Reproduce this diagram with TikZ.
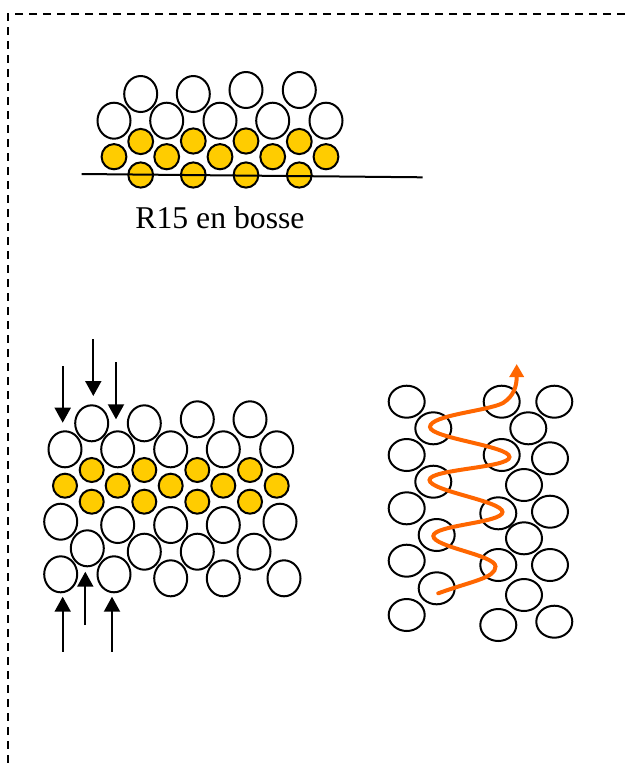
\documentclass[tikz,border=0pt]{standalone}
\usepackage{fontspec}
\setmainfont{Liberation Serif}
\usetikzlibrary{arrows.meta}
\definecolor{grain}{RGB}{255,204,0}
\definecolor{flow}{RGB}{255,102,0}
\tikzset{
  whitebead/.style={draw=black,line width=1pt,fill=white},
  goldbead/.style={draw=black,line width=1pt,fill=grain},
  pressarrow/.style={line width=1pt,-{Triangle[width=8pt,length=7.5pt]}},
  frameline/.style={line width=0.7pt,dash pattern=on 4pt off 3pt},
  flowpath/.style={draw=flow,line width=2pt,line cap=round,-{Triangle[width=7pt,length=6.5pt]}}
}
\begin{document}
\begin{tikzpicture}[x=0.5pt,y=-0.5pt]
\useasboundingbox (0,0) rectangle (625,767);
% frame
\draw[frameline] (625,14) -- (8,14) -- (8,767);

% ---------- top cluster ----------
\foreach \x/\y in {140.7/94,193.3/94,246/90,299.3/90,
                   114/120.7,166.7/120.7,220/120.7,272.7/120.7,326/120.7}
  \draw[whitebead] (\x,\y) ellipse [x radius=8.25pt,y radius=9pt];
\foreach \x/\y in {140.7/141.5,193.3/141,246/141,299.3/141.5,
                   114/156.7,166.7/156.7,220/156.7,272.7/156.7,326/156.7,
                   140.7/175,193.3/175,246/175,299.3/175}
  \draw[goldbead] (\x,\y) ellipse [x radius=6.2pt,y radius=6.3pt];
\coordinate (baseL) at (81.7,174);
\coordinate (baseR) at (422.7,177.3);
\draw[line width=1pt] (baseL) -- (baseR);
\node[font=\fontsize{15.85}{19}\selectfont,inner sep=0pt] (label) at (220,218) {R15 en bosse};

% ---------- bottom left cluster ----------
\foreach \x/\y in {91.7/423.3,144.3/423.3,197.3/419.3,250/419.3,
                   65/449.3,117.7/449.3,170.7/449.3,223.3/449.3,276.7/449.3,
                   60.7/521.7,117.7/525,170.7/525,223.3/525,280/521.7,
                   87.3/548.3,144.3/551.7,197.3/551.7,254/551.7,
                   60.7/574.3,114/574.3,170.7/578.3,223.3/578.3,284/578.3}
  \draw[whitebead] (\x,\y) ellipse [x radius=8.25pt,y radius=9pt];
\foreach \x/\y in {91.7/470,144.3/470,197.3/470,250/470,
                   65/485.7,117.7/485.7,170.7/485.7,223.3/485.7,276.7/485.7,
                   91.7/501.7,144.3/501.7,197.3/501.7,250/501.7}
  \draw[goldbead] (\x,\y) ellipse [x radius=6pt,y radius=6pt];
% press arrows
\coordinate (d1s) at (62.7,366);   \coordinate (d1e) at (62.7,422.7);
\coordinate (d2s) at (93.3,339.3); \coordinate (d2e) at (93.3,396);
\coordinate (d3s) at (116,362);    \coordinate (d3e) at (116,419.3);
\coordinate (u1s) at (62.7,651.7); \coordinate (u1e) at (62.7,596.7);
\coordinate (u2s) at (85.3,625);   \coordinate (u2e) at (85.3,571.7);
\coordinate (u3s) at (112,651.7);  \coordinate (u3e) at (112,596.7);
\foreach \a in {d1,d2,d3,u1,u2,u3}
  \draw[pressarrow] (\a s) -- (\a e);

% ---------- right cluster ----------
\foreach \x/\y in {406.7/401.7,406.7/455,406.7/508.3,406.7/560.7,406.7/615,
                   433.3/428.3,433.3/481.7,436.7/535,436.7/588.3,
                   501.7/401.7,501.7/455,498.3/513.3,498.3/565,498.3/625,
                   528.3/428.3,524/485,524/538.3,524/595,
                   554.3/401.7,550/458.3,550/511.7,550/565,554.3/621.7}
  \draw[whitebead] (\x,\y) ellipse [x radius=9pt,y radius=8pt];
% tortuous flow path
\coordinate (fS) at (438.3,593.3);
\coordinate (fR1) at (495.5,566.5);
\coordinate (fL1) at (433.3,536);
\coordinate (fR2) at (502.5,512);
\coordinate (fL2) at (429.5,480);
\coordinate (fR3) at (509.5,457);
\coordinate (fL3) at (430,427);
\coordinate (fM) at (503,403);
\coordinate (fE) at (516.7,364);
\draw[flowpath] (fS)
  .. controls (472,581) and (495.5,578) .. (fR1)
  .. controls (495.5,555) and (433.3,547) .. (fL1)
  .. controls (433.3,525) and (502.5,523) .. (fR2)
  .. controls (502.5,501) and (429.5,491) .. (fL2)
  .. controls (429.5,469) and (509.5,468) .. (fR3)
  .. controls (509.5,446) and (430,438) .. (fL3)
  .. controls (430,415) and (488,411) .. (fM)
  .. controls (514,396) and (516.7,386) .. (fE);
\end{tikzpicture}
\end{document}
